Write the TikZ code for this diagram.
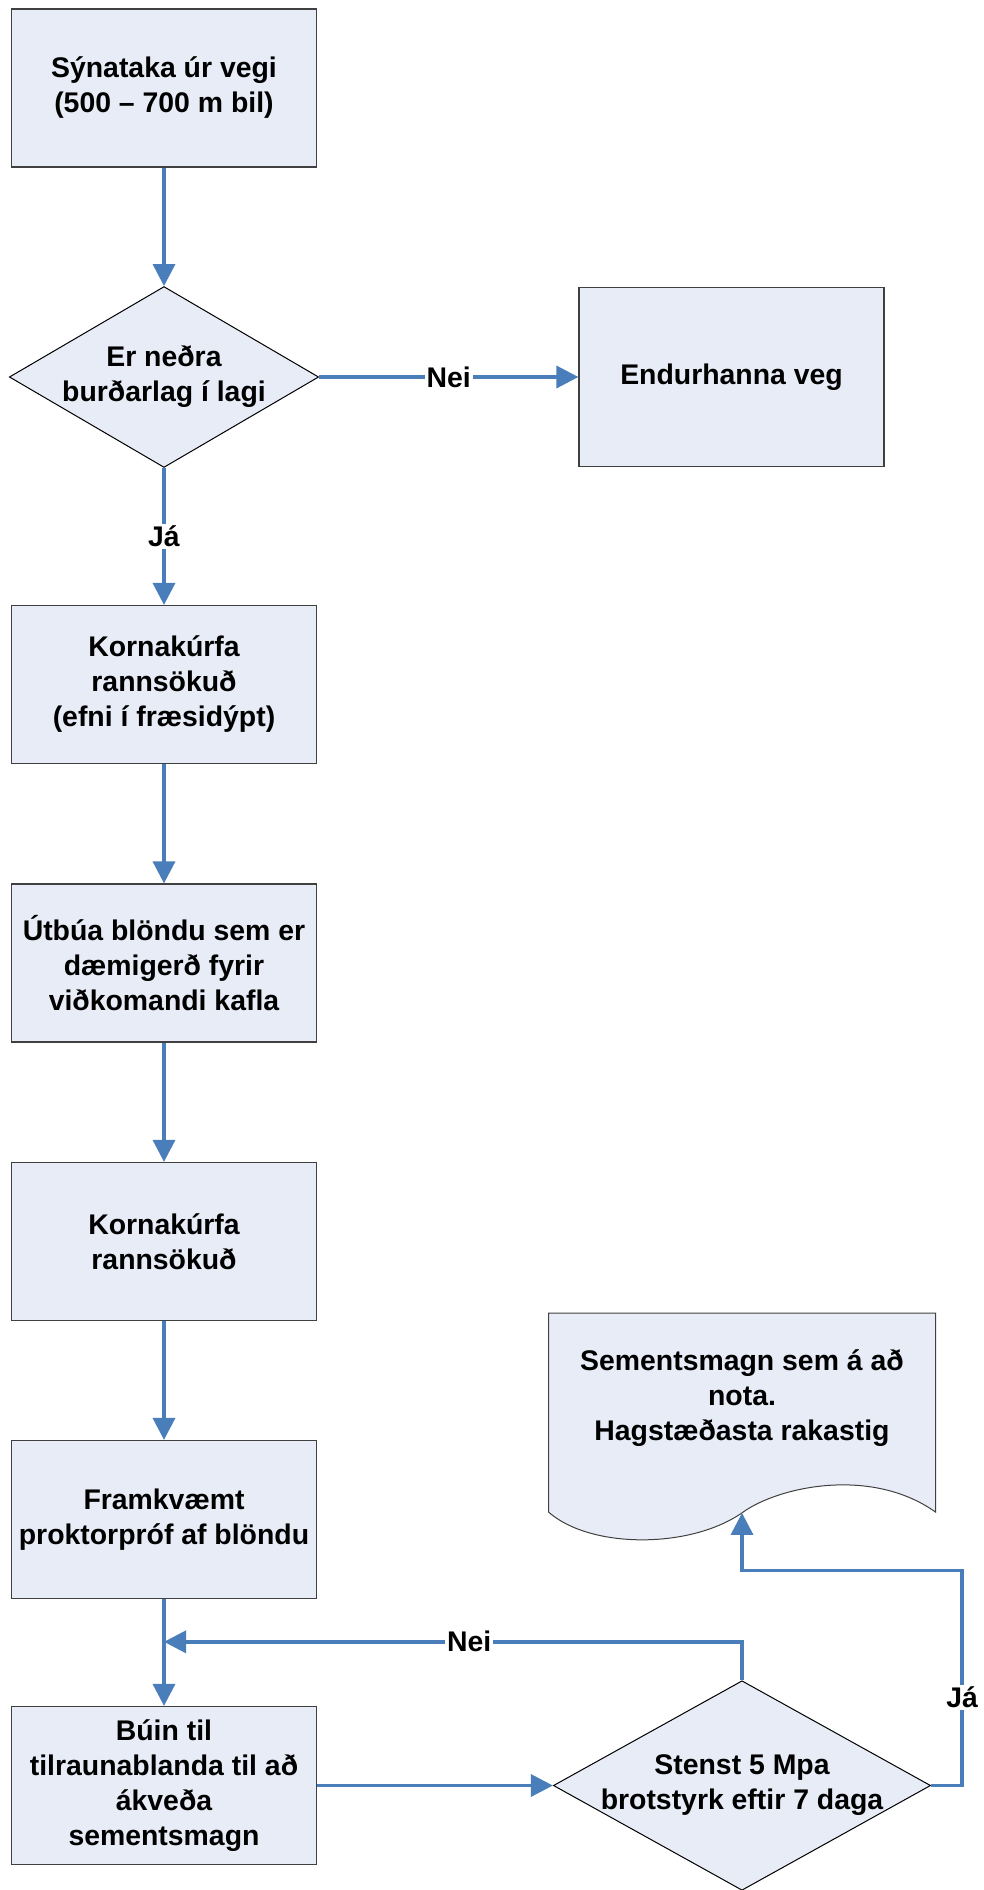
\documentclass[tikz,border=0pt]{standalone}
\usepackage{fontspec}
\setmainfont{Liberation Sans}
\usetikzlibrary{shapes.geometric,positioning,arrows.meta,calc,backgrounds}
\definecolor{boxfill}{RGB}{231,236,247}
\definecolor{boxline}{RGB}{64,64,64}
\definecolor{flowblue}{RGB}{74,126,187}

\begin{document}
\begin{tikzpicture}[x=0.5pt, y=-0.5pt, node distance=140pt, on grid,
txt/.style={font=\bfseries\fontsize{14.2pt}{17.5pt}\selectfont, align=center},
proc/.style={txt, rectangle, draw=boxline, line width=0.6pt, fill=boxfill,
  minimum width=152.5pt, minimum height=79pt, inner sep=2pt},
decision/.style={txt, diamond, draw=black, line width=0.5pt, fill=boxfill,
  inner sep=0pt, aspect=1.71},
conn/.style={draw=flowblue, line width=1.75pt, -{Triangle[length=11pt,width=11pt]}},
lbl/.style={txt, fill=white, inner sep=1pt}]
\useasboundingbox (0,0) rectangle (984,1890);
\node [proc] (b1) at (164,88) {Sýnataka úr vegi\\(500 – 700 m bil)};
\node [decision] (d1) [below=144.5pt of b1] {Er neðra\\burðarlag í lagi};
\node [proc, minimum height=89.5pt] (endur) [right=283.75pt of d1] {Endurhanna veg};
\node [proc] (b2) [below=153.75pt of d1] {Kornakúrfa\\rannsökuð\\(efni í fræsidýpt)};
\node [proc] (b3) [below=139.25pt of b2] {Útbúa blöndu sem er\\dæmigerð fyrir\\viðkomandi kafla};
\node [proc] (b4) [below=139.25pt of b3] {Kornakúrfa\\rannsökuð};
\node [proc] (b5) [below=139pt of b4] {Framkvæmt\\proktorpróf af blöndu};
\node [proc] (b6) [below=133pt of b5] {Búin til\\tilraunablanda til að\\ákveða\\sementsmagn};
\node [decision, aspect=1.8, inner xsep=-3.7pt] (d2) [right=289pt of b6] {Stenst 5 Mpa\\brotstyrk eftir 7 daga};
\node [txt, minimum width=193.5pt, minimum height=85.5pt, inner sep=0pt] (doc) [above=193.5pt of d2]
  {Sementsmagn sem á að\\nota.\\Hagstæðasta rakastig};

% document outline with wavy bottom
\begin{scope}[on background layer, shift={(doc.center)}]
\filldraw [draw=boxline, line width=0.5pt, fill=boxfill]
  (-193.5,-85.5) -- (193.5,-85.5) -- (193.5,113.5)
  .. controls (128.5,67.5) and (35.5,88.5) .. (0.5,114)
  .. controls (-51.5,150.5) and (-151.5,150.5) .. (-193.5,113.5) -- cycle;
\end{scope}

\draw [conn] (b1) -- (d1);
\draw [conn] (d1) -- node [lbl] {Nei} (endur);
\draw [conn] (d1) -- node [lbl] {Já} (b2);
\draw [conn] (b2) -- (b3);
\draw [conn] (b3) -- (b4);
\draw [conn] (b4) -- (b5);
\draw [conn] (b5) -- (b6);
\draw [conn] (b6) -- (d2);
\coordinate (join) at ($(b5.south)!0.4!(b6.north)$);
\draw [conn] (d2.north) |- node [lbl, pos=0.736] {Nei} (join);
\coordinate (docbot) at ([yshift=-14.25pt]doc.south);
\draw [conn] (d2.east) -- ++(31,0) -- node [lbl, pos=0.41] {Já} ++(0,-215) -| (docbot);
\end{tikzpicture}
\end{document}
